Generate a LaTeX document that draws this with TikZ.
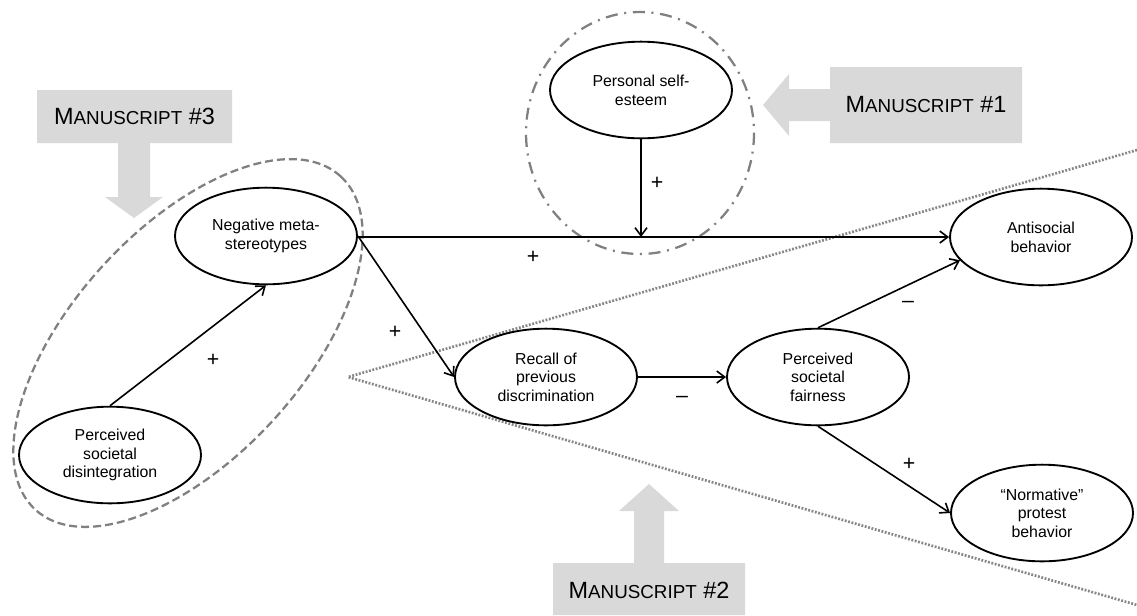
\documentclass[tikz,border=0pt]{standalone}
\usepackage{fontspec}
\setmainfont{Liberation Sans}
\usetikzlibrary{shapes.geometric,arrows.meta}
\definecolor{blockgray}{RGB}{217,217,217}
\definecolor{lingray}{RGB}{128,128,128}
\definecolor{dotgray}{RGB}{135,135,135}
\newcommand{\mscap}[1]{{\fontsize{17.6}{20}\selectfont M\fontsize{14.1}{16}\selectfont ANUSCRIPT\fontsize{17.6}{20}\selectfont\ \##1}}
\tikzset{
  var/.style={ellipse, draw, line width=1.4pt, fill=white, minimum width=136.5pt, minimum height=72.5pt, inner sep=0pt, align=center, font=\fontsize{11.9}{14}\selectfont},
  path/.style={line width=1.2pt, -{Straight Barb[length=6pt,width=9pt,line width=1.2pt]}},
  sign/.style={font=\fontsize{16}{16}\selectfont, inner sep=0pt},
  block/.style={fill=blockgray, draw=none},
  mtext/.style={inner sep=0pt, anchor=center},
  grpdash/.style={draw=lingray, line width=1.7pt, dash pattern=on 6pt off 3pt},
  grpdashdot/.style={draw=lingray, line width=1.7pt, dash pattern=on 9pt off 5pt on 1.5pt off 5pt},
  grpdot/.style={draw=dotgray, line width=2pt, dash pattern=on 1.4pt off 1.2pt}
}
\begin{document}
\begin{tikzpicture}[x=0.75pt,y=-0.75pt]
\useasboundingbox (0,0) rectangle (1137,615);
% block arrows
\fill[block] (37,90) -- (232,90) -- (232,143) -- (150,143) -- (150,197) -- (163,197) -- (134,218) -- (105,197) -- (118,197) -- (118,143) -- (37,143) -- cycle;
\node[mtext] (m3) at (134.5,116.5) {\mscap{3}};
\fill[block] (1022,67) -- (1022,143) -- (830,143) -- (830,121) -- (789,121) -- (789,136) -- (763,105) -- (789,74) -- (789,89) -- (830,89) -- (830,67) -- cycle;
\node[mtext] (m1) at (926,105) {\mscap{1}};
\fill[block] (553,615) -- (553,563) -- (634,563) -- (634,511) -- (619,511) -- (649,484) -- (679,511) -- (664,511) -- (664,563) -- (745,563) -- (745,615) -- cycle;
\node[mtext] (m2) at (649,590) {\mscap{2}};
% group outlines
\coordinate (apex) at (348,377);
\coordinate (ut) at (1137,150);
\coordinate (lt) at (1137,605);
\draw[grpdot] (ut) -- (apex) -- (lt);
\draw[grpdash, rotate around={47.5:(188,343)}] (188,343) ellipse [x radius=226, y radius=115];
\draw[grpdashdot] (640,133) ellipse [x radius=114, y radius=121];
% variables
\node[var] (meta) at (266,236) {Negative meta-\\stereotypes};
\node[var] (dis) at (110,455) {Perceived\\societal\\disintegration};
\node[var] (self) at (641,90) {Personal self-\\esteem};
\node[var] (anti) at (1041,237) {Antisocial\\behavior};
\node[var] (recall) at (546,377) {Recall of\\previous\\discrimination};
\node[var] (fair) at (818,377) {Perceived\\societal\\fairness};
\node[var] (norm) at (1042,513) {“Normative”\\protest\\behavior};
% paths
\coordinate (mod) at (641,237);
\draw[path] (dis.north) -- (meta.south);
\draw[path] (meta.east |- anti.west) -- (anti.west);
\draw[path] (self.south) -- (mod);
\draw[path] (meta.east) -- (recall.west);
\draw[path] (recall.east) -- (fair.west);
\draw[path] (fair.north) -- (anti.196);
\draw[path] (fair.south) -- (norm.west);
% signs
\node[sign] (s1) at (213,360) {+};
\node[sign] (s2) at (533,257) {+};
\node[sign] (s3) at (657,183) {+};
\node[sign] (s4) at (395,332) {+};
\node[sign] (s5) at (682,399) {–};
\node[sign] (s6) at (908,304) {–};
\node[sign] (s7) at (909,464) {+};
\end{tikzpicture}
\end{document}
